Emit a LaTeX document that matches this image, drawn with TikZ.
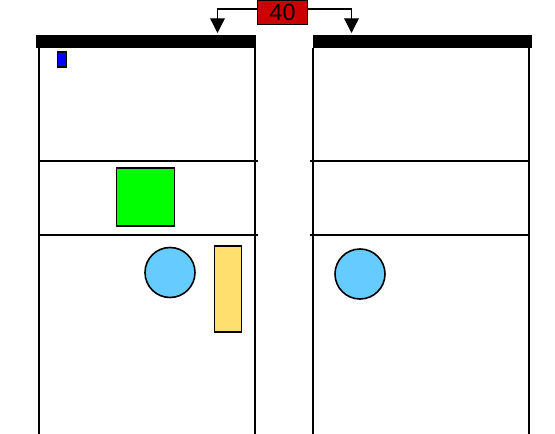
\documentclass[tikz,border=0pt]{standalone}
\usepackage{fontspec}
\setmainfont{Liberation Sans}
\usetikzlibrary{arrows.meta}
\begin{document}
\begin{tikzpicture}[x=0.75pt,y=-0.75pt,
  wall/.style={line width=1.5pt, black},
  floorline/.style={line width=1.2pt, black},
  topbar/.style={fill=black, draw=none},
  shapebox/.style={draw=black, line width=1.2pt, inner sep=0pt, outer sep=0pt},
  tag/.style={fill=red!80!black, draw=black, line width=0.6pt, inner sep=0pt, minimum width=37.5pt, minimum height=18pt, font=\fontsize{17.5}{18}\selectfont},
  feed/.style={line width=1pt, -{Triangle[length=11pt,width=11pt]}}]
\useasboundingbox (0,0) rectangle (555,434);
% top bars
\fill[topbar] (36,35) rectangle (256,48);
\fill[topbar] (313,35) rectangle (532,48);
% walls
\draw[wall] (39,48) -- (39,434);
\draw[wall] (255,48) -- (255,434);
\draw[wall] (313,48) -- (313,434);
\draw[wall] (529,48) -- (529,434);
% floor lines
\draw[floorline] (39,161) -- (258,161);
\draw[floorline] (39,235) -- (258,235);
\draw[floorline] (310,161) -- (529,161);
\draw[floorline] (310,235) -- (529,235);
% label
\node[tag] (t) at (282.5,12) {\raisebox{-0.5pt}{40}};
\coordinate (lt) at (217.5,33);
\coordinate (rt) at (351.5,33);
\draw[feed] (t.west |- 0,9) -| (lt);
\draw[feed] (t.east |- 0,9) -| (rt);
% shapes
\node[shapebox, fill=blue, minimum width=6.5pt, minimum height=11.5pt] (b) at (62,59.5) {};
\node[shapebox, fill=green, minimum width=43.5pt, minimum height=43.5pt] (g) at (145.3,197.2) {};
\node[shapebox, circle, fill={rgb,255:red,102;green,204;blue,255}, minimum size=37.5pt] (c1) at (170,272.5) {};
\node[shapebox, fill={rgb,255:red,255;green,224;blue,110}, minimum width=20.5pt, minimum height=64.5pt] (y) at (228,289.2) {};
\node[shapebox, circle, fill={rgb,255:red,102;green,204;blue,255}, minimum size=37.5pt] (c2) at (360,274) {};
\end{tikzpicture}
\end{document}
